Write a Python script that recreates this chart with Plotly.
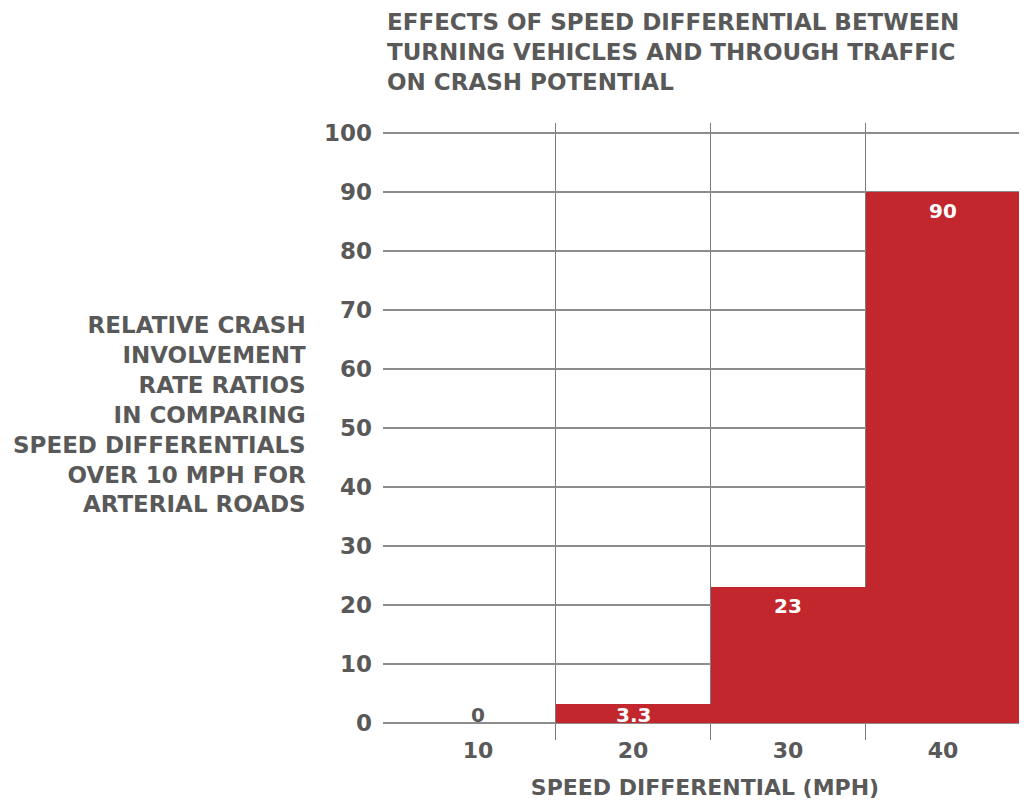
import plotly.graph_objects as go

# Data
categories = ["10", "20", "30", "40"]
values = [0, 3.3, 23, 90]
value_labels = ["0", "3.3", "23", "90"]
y_ticks = [0, 10, 20, 30, 40, 50, 60, 70, 80, 90, 100]

title_text = ("EFFECTS OF SPEED DIFFERENTIAL BETWEEN<br>"
              "TURNING VEHICLES AND THROUGH TRAFFIC<br>"
              "ON CRASH POTENTIAL")
y_title_text = ("RELATIVE CRASH<br>INVOLVEMENT<br>RATE RATIOS<br>IN COMPARING<br>"
                "SPEED DIFFERENTIALS<br>OVER 10 MPH FOR<br>ARTERIAL ROADS")
x_title_text = "SPEED DIFFERENTIAL (MPH)"

GRAY = "#595959"
RED = "#c1272d"
FONT = "DejaVu Sans"

xpos = list(range(len(categories)))

fig = go.Figure()
fig.add_trace(go.Bar(
    x=xpos, y=values, width=1.0,
    marker=dict(color=RED, line=dict(width=0)),
    hoverinfo="skip", showlegend=False,
))

# value labels
for xi, v, lab in zip(xpos, values, value_labels):
    if v == 0:
        fig.add_annotation(x=xi, y=0, text=f"<b>{lab}</b>", showarrow=False,
                           yanchor="bottom", yshift=-6,
                           font=dict(family=FONT, size=20, color=GRAY))
    elif v < 10:
        fig.add_annotation(x=xi, y=v / 2, text=f"<b>{lab}</b>", showarrow=False,
                           yanchor="middle", yshift=-2,
                           font=dict(family=FONT, size=20, color="white"))
    else:
        fig.add_annotation(x=xi, y=v, text=f"<b>{lab}</b>", showarrow=False,
                           yanchor="middle", yshift=-19,
                           font=dict(family=FONT, size=20, color="white"))

# y-axis title (horizontal, right aligned)
fig.add_annotation(xref="paper", yref="paper", x=-0.1165, y=0.528,
                   xanchor="right", yanchor="middle", align="right",
                   text=f"<b>{y_title_text}</b>", showarrow=False,
                   font=dict(family=FONT, size=23, color=GRAY))

# chart title (left aligned, above plot)
fig.add_annotation(xref="paper", yref="paper", x=(377 - 375) / 644, y=1 + 116 / 617,
                   xanchor="left", yanchor="top", align="left",
                   text=f"<b>{title_text}</b>", showarrow=False,
                   font=dict(family=FONT, size=23, color=GRAY))

fig.update_layout(
    width=1019, height=792,
    margin=dict(l=375, r=0, t=115, b=60),
    paper_bgcolor="white", plot_bgcolor="white",
    font=dict(family=FONT, color=GRAY),
    xaxis=dict(
        range=[-0.613, 3.542], tickmode="array", tickvals=xpos, ticktext=categories,
        showgrid=False, zeroline=False, showline=False, ticks="",
        tickfont=dict(family=FONT, size=22, color=GRAY, weight="bold"),
        ticklabelstandoff=-5,
        title=dict(text=f"<b>{x_title_text}</b>", standoff=18,
                   font=dict(family=FONT, size=22, color=GRAY)),
        minor=dict(tickmode="array", tickvals=[0.5, 1.5, 2.5, 3.5], showgrid=True,
                   gridcolor="#7a7a7a", gridwidth=1.2, ticks=""),
    ),
    yaxis=dict(
        range=[-2.88, 101.69], tickmode="array", tickvals=y_ticks,
        showgrid=True, gridcolor="#8c8c8c", gridwidth=1.5,
        zeroline=False, showline=False, ticks="",
        tickfont=dict(family=FONT, size=23, color=GRAY, weight="bold"),
        ticklabelstandoff=10,
    ),
    bargap=0,
)

fig.write_html("out.html")
